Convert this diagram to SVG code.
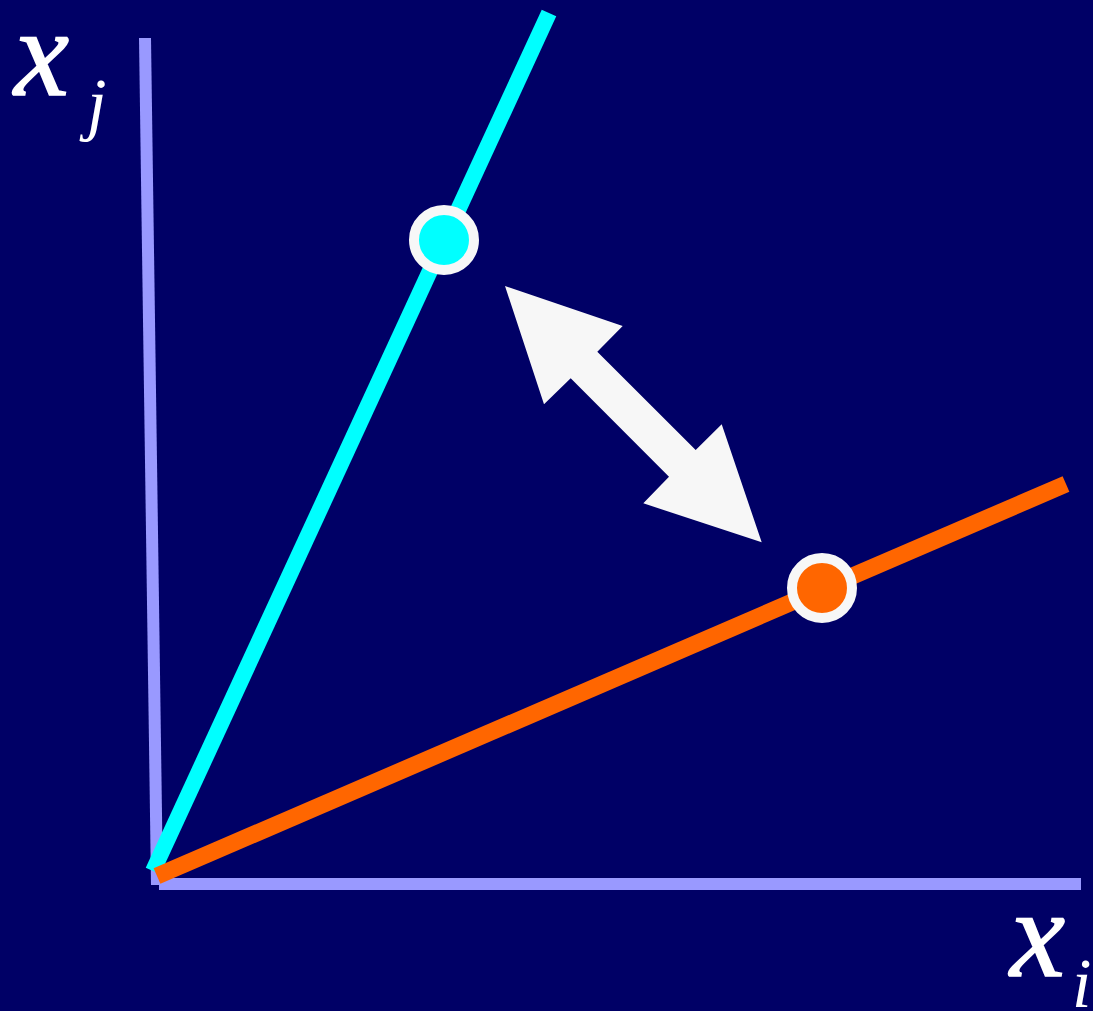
<svg xmlns="http://www.w3.org/2000/svg" width="1093" height="1011" viewBox="0 0 1093 1011">
<style>
.axis{stroke:#9999FF;stroke-width:12;fill:none}
.lbl{font-family:"Liberation Serif",serif;font-style:italic;fill:#FFFFFF}
.big{font-size:124px;stroke:#FFFFFF;stroke-width:1.5}
.sub{font-size:70px}
.pt{stroke:#F7F7F7;stroke-width:10}
</style>
<rect width="1093" height="1011" fill="#000066"/>
<g id="axes">
<line class="axis" x1="145" y1="38" x2="157" y2="885"/>
<line class="axis" x1="159" y1="884" x2="1081" y2="884"/>
</g>
<g id="connectors">
<line x1="549" y1="13" x2="153" y2="871" stroke="#00FFFF" stroke-width="16"/>
<line x1="157" y1="876" x2="1066" y2="484" stroke="#FF6600" stroke-width="17"/>
<polygon id="double-arrow" points="505,286 622.7,326 597.3,351.7 695.7,450 721.7,424.3 761.7,542.3 643.3,503.3 669,476.7 570.7,378.3 544,404.3" fill="#F7F7F7"/>
</g>
<g id="point-cyan"><circle class="pt" cx="444" cy="240" r="30" fill="#00FFFF"/></g>
<g id="point-orange"><circle class="pt" cx="822" cy="588" r="30" fill="#FF6600"/></g>
<g id="label-xj">
<text class="lbl big" x="14" y="95">x</text>
<text class="lbl sub" x="87" y="127">j</text>
</g>
<g id="label-xi">
<text class="lbl big" x="1010" y="976">x</text>
<text class="lbl sub" x="1072" y="1007">i</text>
</g>
</svg>
